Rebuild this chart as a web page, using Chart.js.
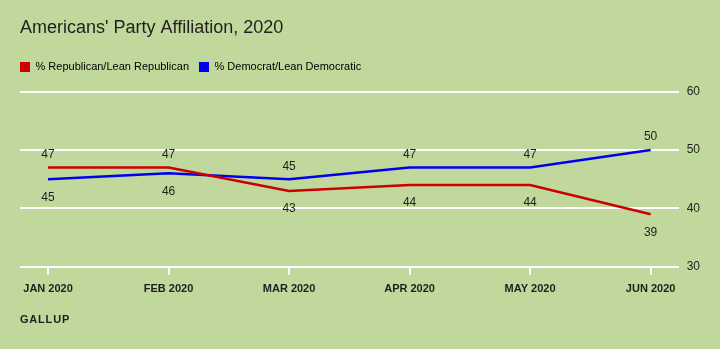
<!DOCTYPE html>
<html>
<head>
<meta charset="utf-8">
<script src="https://cdn.jsdelivr.net/npm/chart.js@4/dist/chart.umd.min.js"></script>
<style>
  html, body { margin: 0; padding: 0; background: #c0d89b; }
  #wrap { width: 720px; height: 349px; }
</style>
</head>
<body>
<div id="wrap"><canvas id="c" width="720" height="349"></canvas></div>
<script>
const months = ['JAN 2020', 'FEB 2020', 'MAR 2020', 'APR 2020', 'MAY 2020', 'JUN 2020'];
const republican = [47, 47, 43, 44, 44, 39];
const democrat = [45, 46, 45, 47, 47, 50];
const yTicks = [30, 40, 50, 60];
const sourceLabel = 'GALLUP';

const FONT = "'Liberation Sans', Arial, sans-serif";
const INK = '#1f1f1f';

const toPoints = arr => arr.map((v, i) => ({ x: i, y: v }));

// Value labels: the higher series at each month is labelled above, the lower below.
const valueLabels = {
  id: 'valueLabels',
  afterDatasetsDraw(chart) {
    const ctx = chart.ctx;
    const xs = chart.scales.x, ys = chart.scales.y;
    const sets = chart.data.datasets;
    ctx.save();
    ctx.font = '12px ' + FONT;
    ctx.fillStyle = INK;
    ctx.textAlign = 'center';
    ctx.textBaseline = 'middle';
    sets.forEach((ds, di) => {
      const other = sets[1 - di];
      ds.data.forEach((p, i) => {
        const above = p.y >= other.data[i].y;
        const px = xs.getPixelForValue(p.x);
        const py = ys.getPixelForValue(p.y);
        ctx.fillText(String(p.y), px, above ? py - 13 : py + 18);
      });
    });
    ctx.restore();
  }
};

// Legend sits flush with the left margin and leaves a gap above the plot.
const legendSpacing = {
  id: 'legendSpacing',
  beforeLayout(chart) {
    const lg = chart.legend;
    if (lg && !lg._spaced) {
      const fit = lg.fit;
      lg.fit = function () { fit.call(this); this.height += 9; };
      lg._spaced = true;
    }
  },
  afterLayout(chart) {
    const lg = chart.legend;
    if (lg) { lg.left -= 10; lg.right -= 10; }
  }
};

// Source line under the axis, letter-spaced.
const sourceNote = {
  id: 'sourceNote',
  afterDraw(chart) {
    const ctx = chart.ctx;
    ctx.save();
    ctx.font = 'bold 11px ' + FONT;
    ctx.letterSpacing = '0.8px';
    ctx.fillStyle = INK;
    ctx.textAlign = 'left';
    ctx.textBaseline = 'middle';
    ctx.fillText(sourceLabel, 20, 320);
    ctx.restore();
  }
};

new Chart(document.getElementById('c'), {
  type: 'line',
  data: {
    datasets: [
      { label: '% Republican/Lean Republican', data: toPoints(republican),
        borderColor: '#cc0000', backgroundColor: '#cc0000', borderWidth: 2.5,
        pointRadius: 0, tension: 0 },
      { label: '% Democrat/Lean Democratic', data: toPoints(democrat),
        borderColor: '#0000f0', backgroundColor: '#0000f0', borderWidth: 2.5,
        pointRadius: 0, tension: 0 }
    ]
  },
  options: {
    responsive: false,
    animation: false,
    events: [],
    layout: { padding: { left: 20, right: 12, top: 10, bottom: 45 } },
    plugins: {
      title: {
        display: true, text: "Americans' Party Affiliation, 2020",
        align: 'start', color: INK,
        font: { family: FONT, size: 18, weight: 'normal' },
        padding: { top: 7, bottom: 13 }
      },
      legend: {
        display: true, align: 'start',
        labels: {
          boxWidth: 10, boxHeight: 10, color: INK, padding: 10,
          font: { family: FONT, size: 11 },
          generateLabels(chart) {
            return chart.data.datasets.map((ds, i) => ({
              text: ds.label, fillStyle: ds.borderColor, strokeStyle: ds.borderColor,
              lineWidth: 0, datasetIndex: i, hidden: false
            }));
          }
        }
      },
      tooltip: { enabled: false }
    },
    scales: {
      x: {
        type: 'linear', min: -0.2326, max: 5.2326,
        afterBuildTicks(scale) { scale.ticks = months.map((_, i) => ({ value: i })); },
        ticks: {
          callback: v => months[v], color: INK, padding: 8, maxRotation: 0,
          font: { family: FONT, size: 11, weight: 'bold' }
        },
        grid: { drawOnChartArea: false, drawTicks: true, tickLength: 8, color: '#ffffff', lineWidth: 2 },
        border: { display: false }
      },
      y: {
        position: 'right', min: 30, max: 60,
        afterBuildTicks(scale) { scale.ticks = yTicks.map(v => ({ value: v })); },
        ticks: { color: INK, padding: 8, font: { family: FONT, size: 12 } },
        grid: { color: '#ffffff', lineWidth: 2, drawTicks: false },
        border: { display: false }
      }
    }
  },
  plugins: [valueLabels, legendSpacing, sourceNote]
});
</script>
</body>
</html>
